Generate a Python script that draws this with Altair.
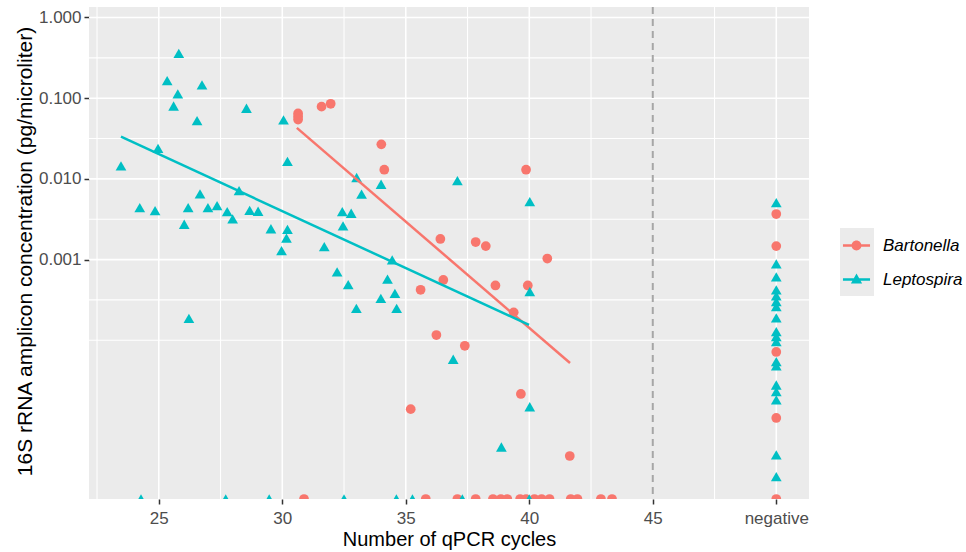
import altair as alt
import pandas as pd

# ---------------- data ----------------
# Bartonella: detected samples (qPCR cycle, concentration pg/µl)
bart_points = [
    (30.64, 0.0647), (30.64, 0.0593), (30.64, 0.0544), (31.59, 0.0785), (31.96, 0.0853),
    (34.01, 0.0268), (34.13, 0.0130), (39.87, 0.0130), (36.40, 0.00180), (37.83, 0.00165),
    (38.24, 0.00147), (40.73, 0.00103), (36.52, 0.000559), (38.63, 0.000478), (39.94, 0.000478),
    (35.60, 0.000422), (39.37, 0.000222), (36.24, 0.000116), (37.39, 8.55e-5), (39.66, 2.16e-5),
    (35.20, 1.40e-5), (41.64, 3.68e-6),
]
# Bartonella: cycles of samples with zero concentration
bart_zero_cycles = [30.88, 35.81, 37.09, 37.83, 38.53, 38.85, 39.11, 39.63, 39.87, 40.21,
                    40.50, 40.82, 41.68, 41.95, 42.90, 43.35]
# Bartonella: qPCR-negative samples (concentration)
bart_negative_conc = [0.00367, 0.00147, 7.16e-5, 1.09e-5, 0]

# Leptospira: detected samples
lept_points = [
    (25.81, 0.360), (25.34, 0.165), (26.75, 0.146), (25.77, 0.113), (25.60, 0.080),
    (26.55, 0.0526), (28.55, 0.075), (30.05, 0.0537), (23.47, 0.01445), (24.97, 0.0239),
    (30.21, 0.0165), (24.23, 0.00440), (24.85, 0.00404), (26.19, 0.00440), (26.67, 0.00650),
    (26.03, 0.00274), (26.99, 0.00440), (27.36, 0.00466), (27.77, 0.00392), (27.99, 0.00319),
    (28.25, 0.00714), (28.68, 0.00408), (29.02, 0.00397), (29.54, 0.00241), (30.21, 0.00237),
    (30.17, 0.00184), (29.97, 0.00129), (31.70, 0.00145), (32.43, 0.00392), (32.79, 0.00375),
    (32.46, 0.00261), (33.01, 0.0104), (33.21, 0.00646), (34.00, 0.00858), (32.22, 0.000702),
    (32.67, 0.000489), (34.26, 0.000572), (34.45, 0.000989), (34.56, 0.000382), (33.99, 0.000330),
    (33.00, 0.000248), (34.63, 0.000248), (37.09, 0.00950), (40.02, 0.00522), (40.02, 0.000400),
    (36.92, 5.82e-5), (26.22, 0.000187), (40.02, 1.50e-5), (38.87, 4.76e-6),
]
lept_zero_cycles = [24.28, 27.71, 29.47, 32.50, 34.62, 35.27, 37.29, 40.00]
lept_negative_conc = [0.00507, 0.000883, 0.000609, 0.000420, 0.000354, 0.000301, 0.000261,
                      0.000189, 0.000128, 0.000111, 9.6e-5, 5.43e-5, 4.81e-5, 2.79e-5,
                      2.31e-5, 1.82e-5, 3.79e-6, 2.04e-6]

# fitted trend lines (end points)
bart_fit = [(30.59, 0.0428), (41.65, 5.23e-5)]
lept_fit = [(23.47, 0.0333), (39.99, 0.000155)]

species = ["Bartonella", "Leptospira"]
colors = ["#F8766D", "#00BFC4"]
x_ticks = [25, 30, 35, 40, 45, 50]          # 50 is the "negative" column
y_ticks = [0.001, 0.01, 0.1, 1]

# ---------------- build tables ----------------
X_DOMAIN = [22.175, 51.325]
Y_DOMAIN = [10 ** -5.967, 10 ** 0.130]
NEG_X = 50
FLOOR = Y_DOMAIN[0]

rows = []
for sp, pts, zeros, negs in [("Bartonella", bart_points, bart_zero_cycles, bart_negative_conc),
                             ("Leptospira", lept_points, lept_zero_cycles, lept_negative_conc)]:
    for c, v in pts:
        rows.append({"species": sp, "cycles": c, "conc": v})
    for c in zeros:
        rows.append({"species": sp, "cycles": c, "conc": FLOOR})
    for v in negs:
        rows.append({"species": sp, "cycles": NEG_X, "conc": v if v > 0 else FLOOR})
df = pd.DataFrame(rows)

fit_rows = []
for sp, f in [("Bartonella", bart_fit), ("Leptospira", lept_fit)]:
    for c, v in f:
        fit_rows.append({"species": sp, "cycles": c, "conc": v})
fit_df = pd.DataFrame(fit_rows)

hmajor = pd.DataFrame({"conc": [1, 0.1, 0.01, 0.001]})
hminor = pd.DataFrame({"conc": [10 ** -0.5, 10 ** -1.5, 10 ** -2.5, 10 ** -3.5, 1e-4]})
vmajor = pd.DataFrame({"cycles": [25, 30, 35, 40, 50]})
vminor = pd.DataFrame({"cycles": [22.5, 27.5, 32.5, 37.5, 42.5, 47.5]})
vdash = pd.DataFrame({"cycles": [45]})

FONT = "Liberation Sans"
xs = alt.Scale(domain=X_DOMAIN, nice=False, zero=False)
ys = alt.Scale(type="log", domain=Y_DOMAIN, nice=False)

x_axis = alt.Axis(values=x_ticks, format="d",
                  labelExpr="datum.value == 50 ? 'negative' : datum.label",
                  grid=False, domain=False, tickColor="#333333", tickSize=5, tickWidth=1.5,
                  labelColor="#4D4D4D", labelFontSize=17, labelFont=FONT, labelPadding=19,
                  labelBaseline="alphabetic",
                  title="Number of qPCR cycles", titleFontSize=20, titleFont=FONT,
                  titleFontWeight="normal", titleColor="black", titleBaseline="alphabetic",
                  titleY=46)
y_axis = alt.Axis(values=y_ticks, format=".3f", grid=False, domain=False,
                  tickColor="#333333", tickSize=5, tickWidth=1.5,
                  labelColor="#4D4D4D", labelFontSize=17, labelFont=FONT, labelPadding=3,
                  title="16S rRNA amplicon concentration (pg/microliter)", titleFontSize=21,
                  titleFont=FONT, titleFontWeight="normal", titleColor="black",
                  titleBaseline="alphabetic", titleAlign="center", titleAngle=270,
                  titleX=-58, titleY=244)

grid_h_major = alt.Chart(hmajor).mark_rule(color="white", strokeWidth=1.6).encode(
    y=alt.Y("conc:Q", scale=ys, axis=y_axis))
grid_h_minor = alt.Chart(hminor).mark_rule(color="white", strokeWidth=1.1).encode(
    y=alt.Y("conc:Q", scale=ys))
grid_v_major = alt.Chart(vmajor).mark_rule(color="white", strokeWidth=1.6).encode(
    x=alt.X("cycles:Q", scale=xs, axis=x_axis))
grid_v_minor = alt.Chart(vminor).mark_rule(color="white", strokeWidth=1.1).encode(
    x=alt.X("cycles:Q", scale=xs))
dash_rule = alt.Chart(vdash).mark_rule(color="#A6A6A6", strokeWidth=2, strokeDash=[7, 5]).encode(
    x=alt.X("cycles:Q", scale=xs))

color_scale = alt.Scale(domain=species, range=colors)

pts = alt.Chart(df).mark_point(filled=True, opacity=1, clip=True).encode(
    x=alt.X("cycles:Q", scale=xs),
    y=alt.Y("conc:Q", scale=ys),
    color=alt.Color("species:N", scale=color_scale, legend=None),
    shape=alt.Shape("species:N", scale=alt.Scale(domain=species, range=["circle", "triangle-up"]),
                    legend=None),
    size=alt.Size("species:N", scale=alt.Scale(domain=species, range=[95, 115]), legend=None),
)

lines = alt.Chart(fit_df).mark_line(strokeWidth=2.5).encode(
    x=alt.X("cycles:Q", scale=xs),
    y=alt.Y("conc:Q", scale=ys),
    color=alt.Color("species:N", scale=color_scale, legend=None),
    detail="species:N",
)

# legend-only layers: grey key boxes, then key = line + marker with labels
box_legend = alt.Legend(orient="none", legendX=751, legendY=221, title=None,
                        labelExpr="''", labelColor="transparent", labelFontSize=1,
                        symbolSize=1156, rowPadding=0, padding=0, labelOffset=0,
                        symbolStrokeWidth=0)
box_layer = alt.Chart(df).transform_filter("false").mark_point(
    filled=True, opacity=1, size=1156, color="#EBEBEB").encode(
    x=alt.X("cycles:Q", scale=xs),
    y=alt.Y("conc:Q", scale=ys),
    shape=alt.Shape("species:N", scale=alt.Scale(domain=species, range=["square", "square"]),
                    legend=box_legend),
)

bart_key = ("M-0.82,-0.076L0.82,-0.076L0.82,0.076L-0.82,0.076Z"
            "M0.30,0A0.30,0.30 0 1 1 -0.30,0A0.30,0.30 0 1 1 0.30,0Z")
lept_key = ("M-0.82,-0.076L0.82,-0.076L0.82,0.076L-0.82,0.076Z"
            "M0,-0.36L0.34,0.24L-0.34,0.24Z")
legend = alt.Legend(orient="none", legendX=751, legendY=222, title=None,
                    labelFontStyle="italic", labelFontSize=17, labelFont=FONT,
                    labelColor="black", symbolSize=1089, rowPadding=9, padding=0,
                    labelOffset=10, symbolStrokeWidth=0)
legend_layer = alt.Chart(df).transform_filter("false").mark_point(
    filled=True, opacity=1, size=1089).encode(
    x=alt.X("cycles:Q", scale=xs),
    y=alt.Y("conc:Q", scale=ys),
    color=alt.Color("species:N", scale=color_scale, legend=legend),
    shape=alt.Shape("species:N", scale=alt.Scale(domain=species, range=[bart_key, lept_key]),
                    legend=legend),
)

chart = alt.layer(
    grid_h_minor, grid_h_major, grid_v_minor, grid_v_major, dash_rule, pts, lines,
    box_layer, legend_layer
).resolve_scale(color="independent", shape="independent").properties(
    width=720, height=492, autosize="none",
    padding={"left": 89, "top": 7, "right": 157, "bottom": 53},
).configure(font=FONT, background="white").configure_view(fill="#EBEBEB", stroke=None)

chart.save("out.html", embed_options={"renderer": "svg", "actions": False})
